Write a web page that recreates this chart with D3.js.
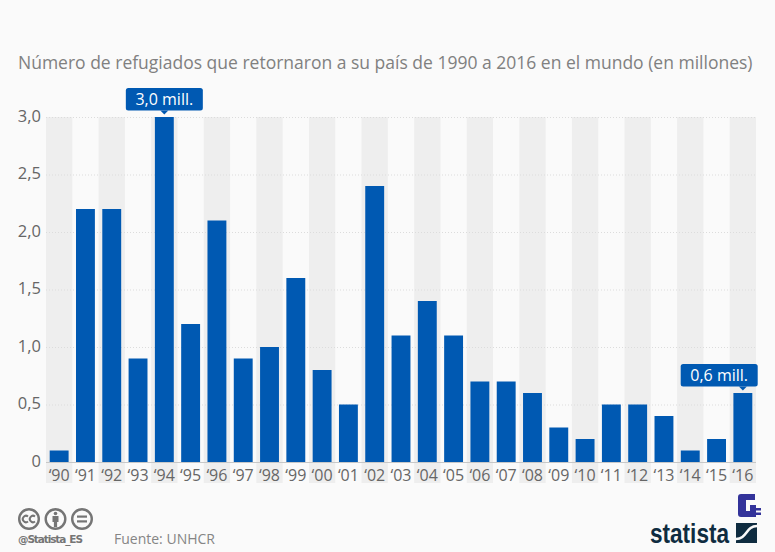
<!DOCTYPE html>
<html>
<head>
<meta charset="utf-8">
<script src="https://cdn.jsdelivr.net/npm/d3@7"></script>
<style>
  html, body { margin: 0; padding: 0; background: #fafafa; }
  svg { display: block; }
  text { font-family: "Open Sans", sans-serif; }
</style>
</head>
<body>
<svg id="chart" width="775" height="552"></svg>
<script>
// valeurs
var years = ["'90","'91","'92","'93","'94","'95","'96","'97","'98","'99","'00","'01","'02","'03","'04","'05","'06","'07","'08","'09","'10","'11","'12","'13","'14","'15","'16"];
var refugees = [0.1,2.2,2.2,0.9,3.0,1.2,2.1,0.9,1.0,1.6,0.8,0.5,2.4,1.1,1.4,1.1,0.7,0.7,0.6,0.3,0.2,0.5,0.5,0.4,0.1,0.2,0.6];
var yTicks = [0,0.5,1,1.5,2,2.5,3];
var callouts = [{year:"'94", label:"3,0 mill."}, {year:"'16", label:"0,6 mill."}];

var BLUE = "#0059b2";
var GREY = "#666";
var DARK = "#0f2c40";

var toile = d3.select("#chart");

toile.append("rect").attr("width", 775).attr("height", 552).attr("fill", "#fafafa");

toile.append("text")
  .attr("x", 18).attr("y", 69)
  .attr("font-size", "17.5px")
  .attr("fill", "#808080")
  .text("Número de refugiados que retornaron a su país de 1990 a 2016 en el mundo (en millones)");

var x = d3.scaleBand().domain(years).range([46, 756]);
var y = d3.scaleLinear().domain([0, 3]).range([462, 117]);
var stripeBottom = 483;

// bandes grises une année sur deux
toile.append("g").selectAll("rect")
  .data(years.filter(function(d, i){ return i % 2 == 0; }))
  .join("rect")
  .attr("x", function(d){ return x(d); })
  .attr("y", y(3))
  .attr("width", x.bandwidth())
  .attr("height", stripeBottom - y(3))
  .attr("fill", "#eeeeee");

// axe y
var yAxis = d3.axisLeft(y)
  .tickValues(yTicks)
  .tickSize(-710)
  .tickFormat(function(d){ return d == 0 ? "0" : d3.format(".1f")(d).replace(".", ","); });

var gy = toile.append("g").attr("transform", "translate(46,0)").call(yAxis);
gy.select(".domain").remove();
gy.selectAll(".tick line")
  .attr("stroke", "#dcdcdc")
  .attr("stroke-dasharray", "1,2");
gy.selectAll(".tick text")
  .attr("x", -5)
  .attr("dy", "0.27em")
  .attr("font-size", "16.5px")
  .attr("fill", GREY)
  .style("font-family", '"Open Sans", sans-serif');

// barres
var pad = 3.7;
toile.append("g").selectAll("rect")
  .data(refugees)
  .join("rect")
  .attr("x", function(d, i){ return x(years[i]) + pad; })
  .attr("y", function(d){ return y(d); })
  .attr("width", x.bandwidth() - 2*pad)
  .attr("height", function(d){ return y(0) - y(d); })
  .attr("fill", BLUE);

// axe x
toile.append("line")
  .attr("x1", 46).attr("x2", 756)
  .attr("y1", y(0) + 0.5).attr("y2", y(0) + 0.5)
  .attr("stroke", "#c8c8c8");

toile.append("g").selectAll("text")
  .data(years)
  .join("text")
  .attr("x", function(d){ return x(d) + x.bandwidth()/2; })
  .attr("y", 481)
  .attr("text-anchor", "middle")
  .attr("font-size", "16px")
  .attr("fill", GREY)
  .text(function(d){ return d.replace("'", "\u2018"); });

// étiquettes
function drawcallout (c){
  var cx = x(c.year) + x.bandwidth()/2;
  var val = refugees[years.indexOf(c.year)];
  var w = 77, h = 22.5;
  var left = Math.min(cx - w/2, 757.7 - w);
  var top = y(val) - 6.5 - h;
  var g = toile.append("g");
  g.append("rect")
    .attr("x", left).attr("y", top)
    .attr("width", w).attr("height", h)
    .attr("rx", 2.5)
    .attr("fill", BLUE);
  g.append("path")
    .attr("d", "M" + (cx-4) + "," + (top+h) + "L" + cx + "," + (top+h+4) + "L" + (cx+4) + "," + (top+h) + "Z")
    .attr("fill", BLUE);
  g.append("text")
    .attr("x", left + w/2).attr("y", top + 17)
    .attr("text-anchor", "middle")
    .attr("font-size", "16px")
    .attr("fill", "#ffffff")
    .text(c.label);
}
callouts.forEach(drawcallout);

// icônes creative commons
var ICON = "#757575";
var icons = toile.append("g").attr("fill", "none").attr("stroke", ICON).attr("stroke-width", 2.4);
icons.append("circle").attr("cx", 29).attr("cy", 519).attr("r", 9.8);
icons.append("circle").attr("cx", 55.5).attr("cy", 519).attr("r", 9.8);
icons.append("circle").attr("cx", 82).attr("cy", 519).attr("r", 9.8);
// cc
icons.append("path").attr("stroke-width", 2).attr("d", "M28,516.5a3.2,3.2 0 1 0 0,5");
icons.append("path").attr("stroke-width", 2).attr("d", "M35,516.5a3.2,3.2 0 1 0 0,5");
// personne
toile.append("circle").attr("cx", 55.5).attr("cy", 513.5).attr("r", 1.8).attr("fill", ICON);
toile.append("path").attr("d", "M52.5,516h6v6h-1.4v5h-3.2v-5h-1.4Z").attr("fill", ICON);
// égal
toile.append("rect").attr("x", 77).attr("y", 515.5).attr("width", 10).attr("height", 2.2).attr("fill", ICON);
toile.append("rect").attr("x", 77).attr("y", 520.3).attr("width", 10).attr("height", 2.2).attr("fill", ICON);

toile.append("text")
  .attr("x", 18).attr("y", 543)
  .attr("font-size", "10.5px")
  .attr("font-weight", 700)
  .attr("fill", "#757575")
  .style("font-family", '"DejaVu Sans", sans-serif')
  .attr("textLength", 65)
  .text("@Statista_ES");

toile.append("text")
  .attr("x", 114).attr("y", 544)
  .attr("font-size", "14px")
  .attr("fill", "#858585")
  .text("Fuente: UNHCR");

// logos
toile.append("path")
  .attr("d", "M741,494H755V500H746V511H750V505H756V508H761V510.5H756V512.5H761V515H756V517H741Q738,517 738,514V497Q738,494 741,494Z")
  .attr("fill", "#33339a");

toile.append("text")
  .attr("x", 650).attr("y", 543)
  .attr("font-size", "27px")
  .attr("font-weight", 700)
  .attr("fill", DARK)
  .style("font-family", '"Liberation Sans Narrow", "Liberation Sans", sans-serif')
  .attr("textLength", 79)
  .attr("lengthAdjust", "spacingAndGlyphs")
  .text("statista");

toile.append("rect")
  .attr("x", 736).attr("y", 523).attr("width", 21).attr("height", 20)
  .attr("fill", DARK);
toile.append("path")
  .attr("d", "M736,539C747,539 746,526 757,526")
  .attr("fill", "none")
  .attr("stroke", "#fafafa")
  .attr("stroke-width", 2.6);
</script>
</body>
</html>
